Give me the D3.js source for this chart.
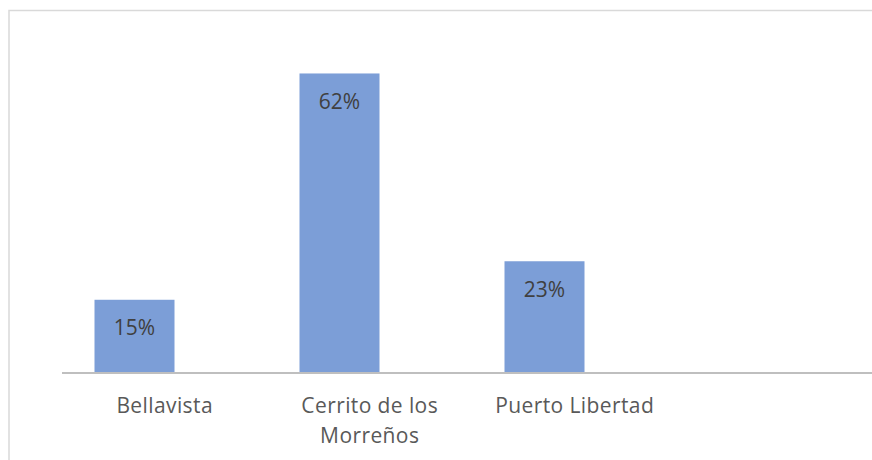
<!DOCTYPE html>
<html>
<head>
<meta charset="utf-8">
<script src="https://cdn.jsdelivr.net/npm/d3@7"></script>
<style>
  html, body { margin: 0; padding: 0; background: #fff; }
  svg { display: block; }
</style>
</head>
<body>
<script>
const categories = ["Bellavista", "Cerrito de los Morreños", "Puerto Libertad"];
const values = [15, 62, 23];
const valueLabels = ["15%", "62%", "23%"];

const W = 872, H = 460;
const svg = d3.select("body").append("svg").attr("width", W).attr("height", H);

// chart border (extends past the right/bottom edge of the picture)
svg.append("rect")
  .attr("x", 9).attr("y", 10.5)
  .attr("width", W + 20).attr("height", H + 20)
  .attr("fill", "#fff").attr("stroke", "#d9d9d9").attr("stroke-width", 1.5);

const baseline = 372;
const y = d3.scaleLinear().domain([0, 70]).range([baseline, baseline - 70 * 4.815]);

// category band for the axis labels
const x = d3.scaleBand().domain(categories).range([62, 62 + 205 * categories.length])
  .paddingInner(125 / 205).paddingOuter(125 / 410);
const barShift = -30; // bars sit left of the label slots in the original

const font = "'Open Sans', sans-serif";

svg.selectAll("rect.bar").data(categories).enter().append("rect")
  .attr("class", "bar")
  .attr("x", d => x(d) + barShift)
  .attr("width", x.bandwidth())
  .attr("y", (d, i) => y(values[i]))
  .attr("height", (d, i) => baseline - y(values[i]))
  .attr("fill", "#7c9ed7");

// axis line
svg.append("line")
  .attr("x1", 62).attr("x2", W)
  .attr("y1", baseline + 1).attr("y2", baseline + 1)
  .attr("stroke", "#bfbfbf").attr("stroke-width", 2.2);

// data labels
svg.selectAll("text.val").data(categories).enter().append("text")
  .attr("class", "val")
  .attr("x", d => x(d) + barShift + x.bandwidth() / 2)
  .attr("y", (d, i) => y(values[i]) + 35.5)
  .attr("text-anchor", "middle")
  .attr("font-family", font).attr("font-size", 21)
  .attr("fill", "#404040")
  .text((d, i) => valueLabels[i]);

// category labels with wrapping
const maxW = 185;
const lab = svg.selectAll("text.cat").data(categories).enter().append("text")
  .attr("class", "cat")
  .attr("text-anchor", "middle")
  .attr("font-family", font).attr("font-size", 21)
  .attr("letter-spacing", 0.4)
  .attr("fill", "#595959");
lab.each(function(d) {
  const t = d3.select(this);
  const cx = x(d) + x.bandwidth() / 2 + 0.2;
  const words = d.split(" ");
  const lines = [];
  let cur = [];
  const probe = t.append("tspan");
  words.forEach(w => {
    const trial = cur.concat([w]).join(" ");
    probe.text(trial);
    if (probe.node().getComputedTextLength() > maxW && cur.length) {
      lines.push(cur.join(" "));
      cur = [w];
    } else cur.push(w);
  });
  lines.push(cur.join(" "));
  probe.remove();
  lines.forEach((ln, i) => {
    t.append("tspan").attr("x", cx).attr("y", 412.5 + i * 30.2).text(ln);
  });
});
</script>
</body>
</html>
